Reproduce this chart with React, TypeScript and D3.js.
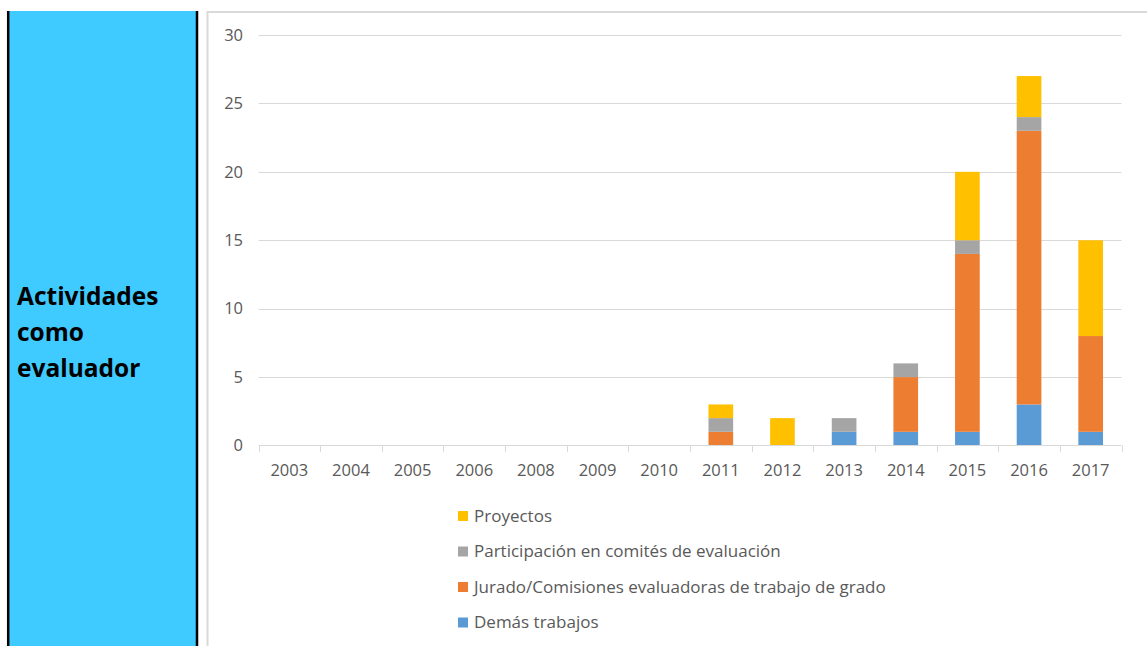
import React from "react";
import * as d3 from "d3";

const years = ["2003","2004","2005","2006","2008","2009","2010","2011","2012","2013","2014","2015","2016","2017"];
const demas =        [0,0,0,0,0,0,0,0,0,1,1,1,3,1];
const jurado =       [0,0,0,0,0,0,0,1,0,0,4,13,20,7];
const participacion =[0,0,0,0,0,0,0,1,0,1,1,1,1,0];
const proyectos =    [0,0,0,0,0,0,0,1,2,0,0,5,3,7];
const yTicks = [0,5,10,15,20,25,30];

const seriesNames = ["Demás trabajos","Jurado/Comisiones evaluadoras de trabajo de grado","Participación en comités de evaluación","Proyectos"];
const seriesColors = ["#5B9BD5","#ED7D31","#A5A5A5","#FFC000"];
const legendOrder = [3,2,1,0];

export default function App() {
  const W = 1147, H = 646;
  const x = d3.scaleBand().domain(years).range([258.5, 1121.5]).paddingInner(0.6).paddingOuter(0.3);
  const y = d3.scaleLinear().domain([0, 30]).range([445.5, 35]);
  const table = years.map((yr, i) => ({ year: yr, s0: demas[i], s1: jurado[i], s2: participacion[i], s3: proyectos[i] }));
  const stack = d3.stack<any>().keys(["s0","s1","s2","s3"])(table);
  const step = x.step();
  const font = "'Open Sans', 'DejaVu Sans', sans-serif";
  const fs = 16.5;
  return (
    <div style={{ position: "absolute", left: 0, top: 0 }}>
      <svg width={W} height={H} style={{ display: "block" }}>
        <rect x={0} y={0} width={W} height={H} fill="#fff" />
        {/* left label panel */}
        <rect x={8} y={11} width={189} height={H} fill="#3FCBFF" />
        <line x1={8.2} y1={11} x2={8.2} y2={H} stroke="#000" strokeWidth={2.5} />
        <line x1={197} y1={11} x2={197} y2={H} stroke="#000" strokeWidth={2.5} />
        <text x={18} fontFamily="'Open Sans', sans-serif" fontWeight="bold" fontSize={24.5} fill="#000">
          <tspan x={17} y={305}>Actividades</tspan>
          <tspan x={17} y={341}>como</tspan>
          <tspan x={17} y={377}>evaluador</tspan>
        </text>
        {/* chart frame */}
        <rect x={207.5} y={12} width={1137} height={H + 20} fill="none" stroke="#D9D9D9" strokeWidth={2} />
        {/* gridlines */}
        {yTicks.filter(t => t > 0).map(t => (
          <line key={t} x1={258.5} x2={1121.5} y1={Math.round(y(t)) + 0.5} y2={Math.round(y(t)) + 0.5} stroke="#D9D9D9" strokeWidth={1} />
        ))}
        {yTicks.map(t => (
          <text key={"l" + t} x={243} y={y(t)} dy="0.35em" textAnchor="end" fontFamily={font} fontSize={fs} fill="#595959">{t}</text>
        ))}
        {/* bars */}
        {stack.map((s, si) => (
          <g key={si} fill={seriesColors[si]}>
            {s.map((d, i) => d[1] - d[0] > 0 ? (
              <rect key={i} x={x(years[i])!} width={x.bandwidth()} y={y(d[1])} height={y(d[0]) - y(d[1])} />
            ) : null)}
          </g>
        ))}
        {/* x axis */}
        <line x1={258.5} x2={1121.5} y1={445.5} y2={445.5} stroke="#D9D9D9" strokeWidth={1} />
        {d3.range(years.length + 1).map(i => (
          <line key={"t" + i} x1={Math.round(258.5 + i * step) + 0.5} x2={Math.round(258.5 + i * step) + 0.5} y1={445.5} y2={452} stroke="#D9D9D9" strokeWidth={1} />
        ))}
        {years.map(yr => (
          <text key={"x" + yr} x={x(yr)! + x.bandwidth() / 2} y={470} dy="0.35em" textAnchor="middle" fontFamily={font} fontSize={fs} fill="#595959">{yr}</text>
        ))}
        {/* legend */}
        {legendOrder.map((si, k) => (
          <g key={"lg" + si} transform={`translate(458, ${516 + k * 35.5})`}>
            <rect x={0} y={-5} width={10} height={10} fill={seriesColors[si]} />
            <text x={16} y={0} dy="0.35em" fontFamily={font} fontSize={17} fill="#595959">{seriesNames[si]}</text>
          </g>
        ))}
      </svg>
    </div>
  );
}
